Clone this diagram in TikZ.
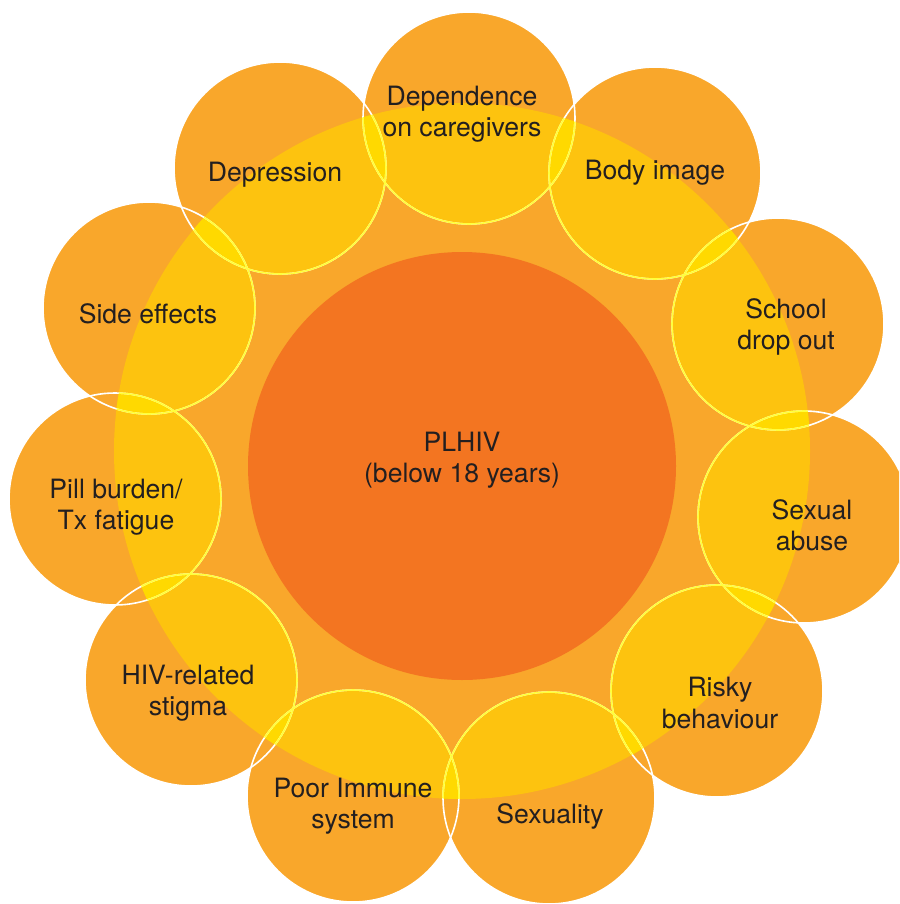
\documentclass[tikz,border=0pt]{standalone}
\usepackage{fontspec}
\setmainfont{TeX Gyre Heros}
\definecolor{petal}{HTML}{F9A72B}
\definecolor{overlap}{HTML}{FDC30F}
\definecolor{overlaptwo}{HTML}{FFD900}
\definecolor{core}{HTML}{F37521}
\definecolor{rimline}{HTML}{FFFF3C}
\definecolor{ink}{HTML}{231F20}

\begin{document}
\begin{tikzpicture}[x=0.5pt,y=-0.5pt,
  lbl/.style={text=ink, font=\fontsize{13.3}{15.6}\selectfont, align=center, inner sep=0pt},
  ring/.style={line width=0.8pt}]
\useasboundingbox (0,0) rectangle (899,904);
\clip (0,0) rectangle (899,904);

\def\petals{dep/469/118, bod/655/173, sch/778/324, sex/804/517, ris/717/691,
  sxl/549/798, imm/353/796, hiv/191/680, pil/115/499, sid/149/308, dpr/280/168}
\def\pairs{dep/bod, bod/sch, sch/sex, sex/ris, ris/sxl, sxl/imm, imm/hiv,
  hiv/pil, pil/sid, sid/dpr, dpr/dep}
\def\pr{106}

\coordinate (hub) at (462,451);
\coordinate (mid) at (462,466);
\foreach \n/\x/\y in \petals { \coordinate (\n) at (\x,\y); }

% base ring and petals
\fill[petal] (hub) circle[radius=348];
\foreach \n/\x/\y in \petals { \fill[petal] (\n) circle[radius=\pr]; }

% petals inside the ring turn yellow
\begin{scope}
  \clip (hub) circle[radius=348];
  \foreach \n/\x/\y in \petals { \fill[overlap] (\n) circle[radius=\pr]; }
\end{scope}

% lenses where neighbouring petals meet inside the ring
\foreach \a/\b in \pairs {
  \begin{scope}
    \clip (hub) circle[radius=348];
    \clip (\a) circle[radius=\pr];
    \fill[overlaptwo] (\b) circle[radius=\pr];
  \end{scope}
}

% petal outlines: white outside the ring, bright yellow inside
\foreach \n/\x/\y in \petals { \draw[ring, white] (\n) circle[radius=\pr]; }
\begin{scope}
  \clip (hub) circle[radius=348];
  \foreach \n/\x/\y in \petals { \draw[ring, rimline] (\n) circle[radius=\pr]; }
\end{scope}

% centre disc
\fill[core] (mid) circle[radius=214];

% labels
\node[lbl] (tcore) at (462,460) {PLHIV\\(below 18 years)};
\node[lbl] (tdep) at (462,114) {Dependence\\on caregivers};
\node[lbl] (tdpr) at (275,175) {Depression};
\node[lbl] (tbod) at (655,173) {Body image};
\node[lbl] (tsid) at (148,314) {Side effects};
\node[lbl] (tsch) at (786,327) {School\\drop out};
\node[lbl] (tpil) at (116,507) {Pill burden/\\Tx fatigue};
\node[lbl] (tsex) at (812,525) {Sexual\\abuse};
\node[lbl] (thiv) at (188,693) {HIV-related\\stigma};
\node[lbl] (tris) at (720,703) {Risky\\behaviour};
\node[lbl] (timm) at (353,806) {Poor Immune\\system};
\node[lbl] (tsxl) at (550,816) {Sexuality};
\end{tikzpicture}
\end{document}
